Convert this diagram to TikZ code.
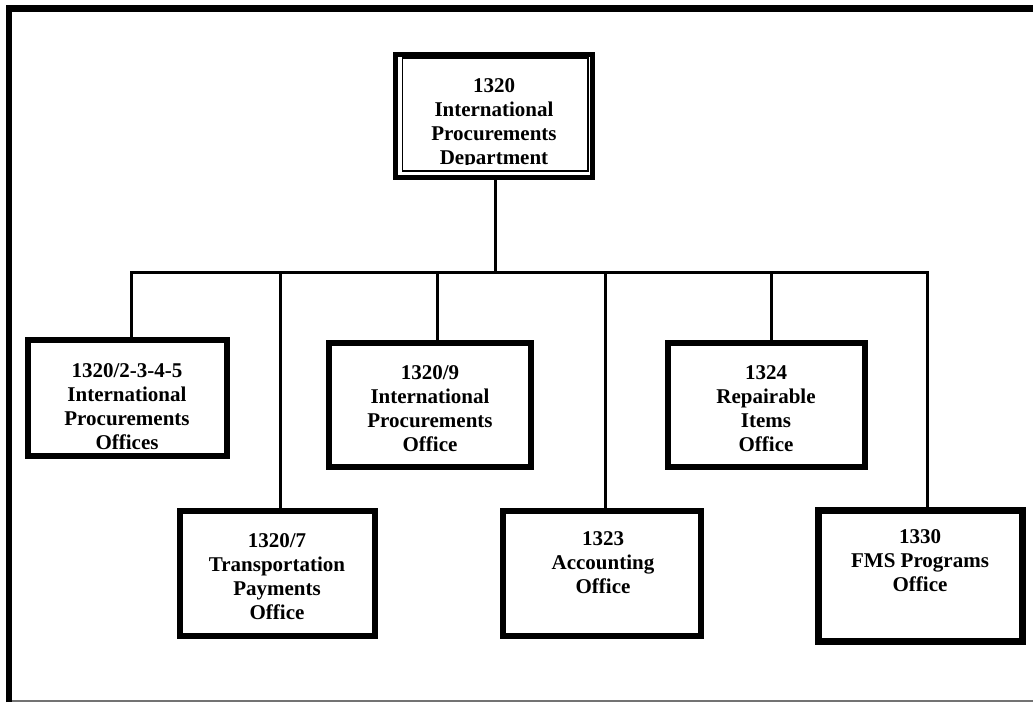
\documentclass[tikz,border=0pt]{standalone}
\usepackage{fontspec}
\setmainfont{Liberation Serif}
\begin{document}
\begin{tikzpicture}[x=1pt,y=-1pt,
  unit/.style={draw=black,line width=6pt,fill=white,inner sep=0pt},
  label text/.style={align=center,inner sep=0pt,
    font=\fontsize{21}{24}\selectfont\bfseries},
  link/.style={line width=3pt,line join=miter}]
\useasboundingbox (0,0) rectangle (1033,702);

% outer frame
\draw[line width=6.5pt] (9,702) -- (9,8.3) -- (1040,8.3);
\draw[line width=1.5pt,black!55] (12,700.8) -- (1040,700.8);

% department box with double border
\node[draw=black,line width=5pt,minimum width=197pt,minimum height=123pt,inner sep=0pt]
  (dept) at (494,116) {};
\node[draw=black,line width=1.5pt,minimum width=185.5pt,minimum height=113pt,inner sep=0pt]
  (deptin) at (495.25,114.5) {};
\begin{scope}
  \clip (403.5,59.5) rectangle (587,164.3);
  \node[label text] (tdept) at (494,123.2)
    {\strut 1320\\\strut International\\\strut Procurements\\\strut Department};
\end{scope}

% office boxes
\node[unit,minimum width=199pt,minimum height=116pt] (b1) at (127.5,398) {};
\node[unit,minimum width=195pt,minimum height=125pt] (b2) at (277.5,573.5) {};
\node[unit,minimum width=202pt,minimum height=124pt] (b3) at (430,405) {};
\node[unit,minimum width=197pt,minimum height=124pt] (b4) at (766.5,405) {};
\node[unit,minimum width=198pt,minimum height=125pt] (b5) at (602,573.5) {};
\node[unit,line width=7pt,minimum width=204pt,minimum height=131pt] (b6) at (920,575.5) {};

\node[label text] (t1) at (127,408.2)
  {\strut 1320/2-3-4-5\\\strut International\\\strut Procurements\\\strut Offices};
\node[label text] (t2) at (277,578.2)
  {\strut 1320/7\\\strut Transportation\\\strut Payments\\\strut Office};
\node[label text] (t3) at (430,410.2)
  {\strut 1320/9\\\strut International\\\strut Procurements\\\strut Office};
\node[label text] (t4) at (766,410.2)
  {\strut 1324\\\strut Repairable\\\strut Items\\\strut Office};
\node[label text] (t5) at (603,564.2)
  {\strut 1323\\\strut Accounting\\\strut Office};
\node[label text] (t6) at (920,562.5)
  {\strut 1330\\\strut FMS Programs\\\strut Office};

% bus and drop points
\coordinate (top) at (495,272);
\coordinate (c1) at (131.5,272);
\coordinate (c2) at (280.5,272);
\coordinate (c3) at (437,272);
\coordinate (c5) at (605,272);
\coordinate (c4) at (771.5,272);
\coordinate (c6) at (927.5,272);

\draw[link] (dept.south -| top) -- (top);
\draw[link] (c1 |- b1.north) -- (c1) -- (c6) -- (c6 |- b6.north);
\draw[link] (c2) -- (c2 |- b2.north);
\draw[link] (c3) -- (c3 |- b3.north);
\draw[link] (c5) -- (c5 |- b5.north);
\draw[link] (c4) -- (c4 |- b4.north);
\end{tikzpicture}
\end{document}
